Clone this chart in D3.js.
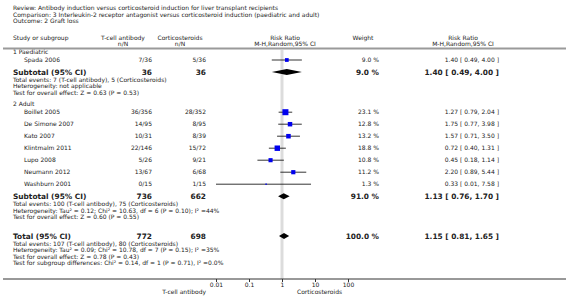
<!DOCTYPE html>
<html>
<head>
<meta charset="utf-8">
<script src="https://cdn.jsdelivr.net/npm/d3@7"></script>
<style>
  body { margin: 0; background: #fff; }
  text { font-family: "DejaVu Sans", sans-serif; fill: #222; }
</style>
</head>
<body>
<svg id="chart" width="566" height="296"></svg>
<script>
// header texts
const titleLines = [
  "Review:  Antibody induction versus corticosteroid induction for liver transplant recipients",
  "Comparison:  3 Interleukin-2 receptor antagonist versus corticosteroid induction (paediatric and adult)",
  "Outcome:  2 Graft loss"
];

// studies
const studyNames = ["Spada 2006", "Boillet 2005", "De Simone 2007", "Kato 2007", "Klintmalm 2011", "Lupo 2008", "Neumann 2012", "Washburn 2001"];
const studyGroup = [0, 1, 1, 1, 1, 1, 1, 1];
const tcellEvents = [7, 36, 14, 10, 22, 5, 13, 0];
const tcellTotal = [36, 356, 95, 31, 146, 26, 67, 15];
const cortEvents = [5, 28, 8, 8, 15, 9, 6, 1];
const cortTotal = [36, 352, 95, 39, 72, 21, 68, 15];
const weights = [9.0, 23.1, 12.8, 13.2, 18.8, 10.8, 11.2, 1.3];
const rr = [1.40, 1.27, 1.75, 1.57, 0.72, 0.45, 2.20, 0.33];
const rrLow = [0.49, 0.79, 0.77, 0.71, 0.40, 0.18, 0.89, 0.01];
const rrHigh = [4.00, 2.04, 3.98, 3.50, 1.31, 1.14, 5.44, 7.58];

// subgroups
const groupNames = ["1 Paediatric", "2 Adult"];
const groupTcellTotal = [36, 736];
const groupCortTotal = [36, 662];
const groupWeight = [9.0, 91.0];
const groupRR = [1.40, 1.13];
const groupLow = [0.49, 0.76];
const groupHigh = [4.00, 1.70];
const groupNotes = [
  ["Total events: 7 (T-cell antibody), 5 (Corticosteroids)",
   "Heterogeneity: not applicable",
   "Test for overall effect: Z = 0.63 (P = 0.53)"],
  ["Total events: 100 (T-cell antibody), 75 (Corticosteroids)",
   "Heterogeneity: Tau² = 0.12; Chi² = 10.63, df = 6 (P = 0.10); I² =44%",
   "Test for overall effect: Z = 0.60 (P = 0.55)"]
];

// overall
const totalTcell = 772;
const totalCort = 698;
const totalWeight = 100.0;
const totalRR = 1.15, totalLow = 0.81, totalHigh = 1.65;
const totalNotes = [
  "Total events: 107 (T-cell antibody), 80 (Corticosteroids)",
  "Heterogeneity: Tau² = 0.09; Chi² = 10.78, df = 7 (P = 0.15); I² =35%",
  "Test for overall effect: Z = 0.78 (P = 0.43)",
  "Test for subgroup differences: Chi² = 0.14, df = 1 (P = 0.71), I² =0.0%"
];

const tickValues = [0.01, 0.1, 1, 10, 100];
const favourLeft = "T-cell antibody";
const favourRight = "Corticosteroids";

const svg = d3.select("#chart");
const fmt = d3.format(".2f");
const small = 6, big = 7.4;

// columns
const col = { study: 13, indent: 24, tcell: 152, cort: 206, weight: 379, ci: 499 };

const x = d3.scaleLog().domain([0.01, 100]).range([216, 348]);

function txt(xp, yp, s, opts = {}) {
  return svg.append("text")
    .attr("x", xp).attr("y", yp).attr("dy", "0.35em")
    .attr("text-anchor", opts.anchor || "start")
    .style("font-size", (opts.size || small) + "px")
    .style("font-weight", opts.bold ? "bold" : "normal")
    .text(s);
}

function ciText(r, l, h) {
  return `${fmt(r)} [ ${fmt(l)}, ${fmt(h)} ]`;
}

// title
titleLines.forEach((t, i) => txt(col.study, 8 + i * 6.5, t));

// column headers
txt(col.study, 38, "Study or subgroup");
txt(123, 38, "T-cell antibody", { anchor: "middle" });
txt(123, 44, "n/N", { anchor: "middle" });
txt(180, 38, "Corticosteroids", { anchor: "middle" });
txt(180, 44, "n/N", { anchor: "middle" });
txt(285, 38, "Risk Ratio", { anchor: "middle" });
txt(285, 44, "M-H,Random,95% CI", { anchor: "middle" });
txt(363, 38, "Weight", { anchor: "middle" });
txt(463, 38, "Risk Ratio", { anchor: "middle" });
txt(463, 44, "M-H,Random,95% CI", { anchor: "middle" });

svg.append("line")
  .attr("x1", 3).attr("x2", 566).attr("y1", 48.5).attr("y2", 48.5)
  .attr("stroke", "#9a9a9a").attr("stroke-width", 2);

// line of no effect
svg.append("line")
  .attr("x1", x(1)).attr("x2", x(1)).attr("y1", 50).attr("y2", 279)
  .attr("stroke", "#dcdcdc").attr("stroke-width", 3);

function diamond(yc, l, m, h) {
  const hh = 3;
  svg.append("path")
    .attr("d", `M${x(l)},${yc} L${x(m)},${yc - hh} L${x(h)},${yc} L${x(m)},${yc + hh} Z`)
    .attr("fill", "#000");
}

function studyRow(i, yc) {
  txt(col.indent, yc, studyNames[i]);
  txt(col.tcell, yc, `${tcellEvents[i]}/${tcellTotal[i]}`, { anchor: "end" });
  txt(col.cort, yc, `${cortEvents[i]}/${cortTotal[i]}`, { anchor: "end" });
  txt(col.weight, yc, `${weights[i].toFixed(1)} %`, { anchor: "end" });
  txt(col.ci, yc, ciText(rr[i], rrLow[i], rrHigh[i]), { anchor: "end" });

  svg.append("line")
    .attr("x1", x(rrLow[i])).attr("x2", x(rrHigh[i]))
    .attr("y1", yc).attr("y2", yc)
    .attr("stroke", "#000").attr("stroke-width", 0.8);
  const s = Math.max(1, 1.25 * Math.sqrt(weights[i]));
  svg.append("rect")
    .attr("x", x(rr[i]) - s / 2).attr("y", yc - s / 2)
    .attr("width", s).attr("height", s)
    .attr("fill", "#0000ee");
}

let y = 52;
groupNames.forEach((g, gi) => {
  txt(col.study, y, g);
  y += 8;
  studyNames.forEach((_, i) => {
    if (studyGroup[i] !== gi) return;
    studyRow(i, y);
    y += 12;
  });
  // subtotal
  txt(col.study, y, "Subtotal (95% CI)", { bold: true, size: big });
  txt(col.tcell, y, groupTcellTotal[gi], { bold: true, size: big, anchor: "end" });
  txt(col.cort, y, groupCortTotal[gi], { bold: true, size: big, anchor: "end" });
  txt(col.weight, y, `${groupWeight[gi].toFixed(1)} %`, { bold: true, size: big, anchor: "end" });
  txt(col.ci, y, ciText(groupRR[gi], groupLow[gi], groupHigh[gi]), { bold: true, size: big, anchor: "end" });
  diamond(y, groupLow[gi], groupRR[gi], groupHigh[gi]);
  y += 8;
  groupNotes[gi].forEach(n => { txt(col.study, y, n); y += 6.2; });
  y += 5.6;
});

// overall total
y = 236;
txt(col.study, y, "Total (95% CI)", { bold: true, size: big });
txt(col.tcell, y, totalTcell, { bold: true, size: big, anchor: "end" });
txt(col.cort, y, totalCort, { bold: true, size: big, anchor: "end" });
txt(col.weight, y, `${totalWeight.toFixed(1)} %`, { bold: true, size: big, anchor: "end" });
txt(col.ci, y, ciText(totalRR, totalLow, totalHigh), { bold: true, size: big, anchor: "end" });
diamond(y, totalLow, totalRR, totalHigh);
y += 8;
totalNotes.forEach(n => { txt(col.study, y, n); y += 6.3; });

// axis
const axisY = 279;
svg.append("line")
  .attr("x1", 3).attr("x2", 566).attr("y1", axisY).attr("y2", axisY)
  .attr("stroke", "#333").attr("stroke-width", 1);

const ax = svg.append("g")
  .attr("transform", `translate(0,${axisY})`)
  .call(d3.axisBottom(x).tickValues(tickValues).tickSize(3).tickPadding(1)
    .tickFormat(d => d3.format("~g")(d)));
ax.select(".domain").remove();
ax.selectAll("line").attr("stroke", "#333");
ax.selectAll("text").style("font-size", small + "px").attr("fill", "#222")
  .style("font-family", "DejaVu Sans, sans-serif");

txt(x(1) - 76, 292, favourLeft, { anchor: "end" });
txt(x(1) + 15, 292, favourRight);
</script>
</body>
</html>
